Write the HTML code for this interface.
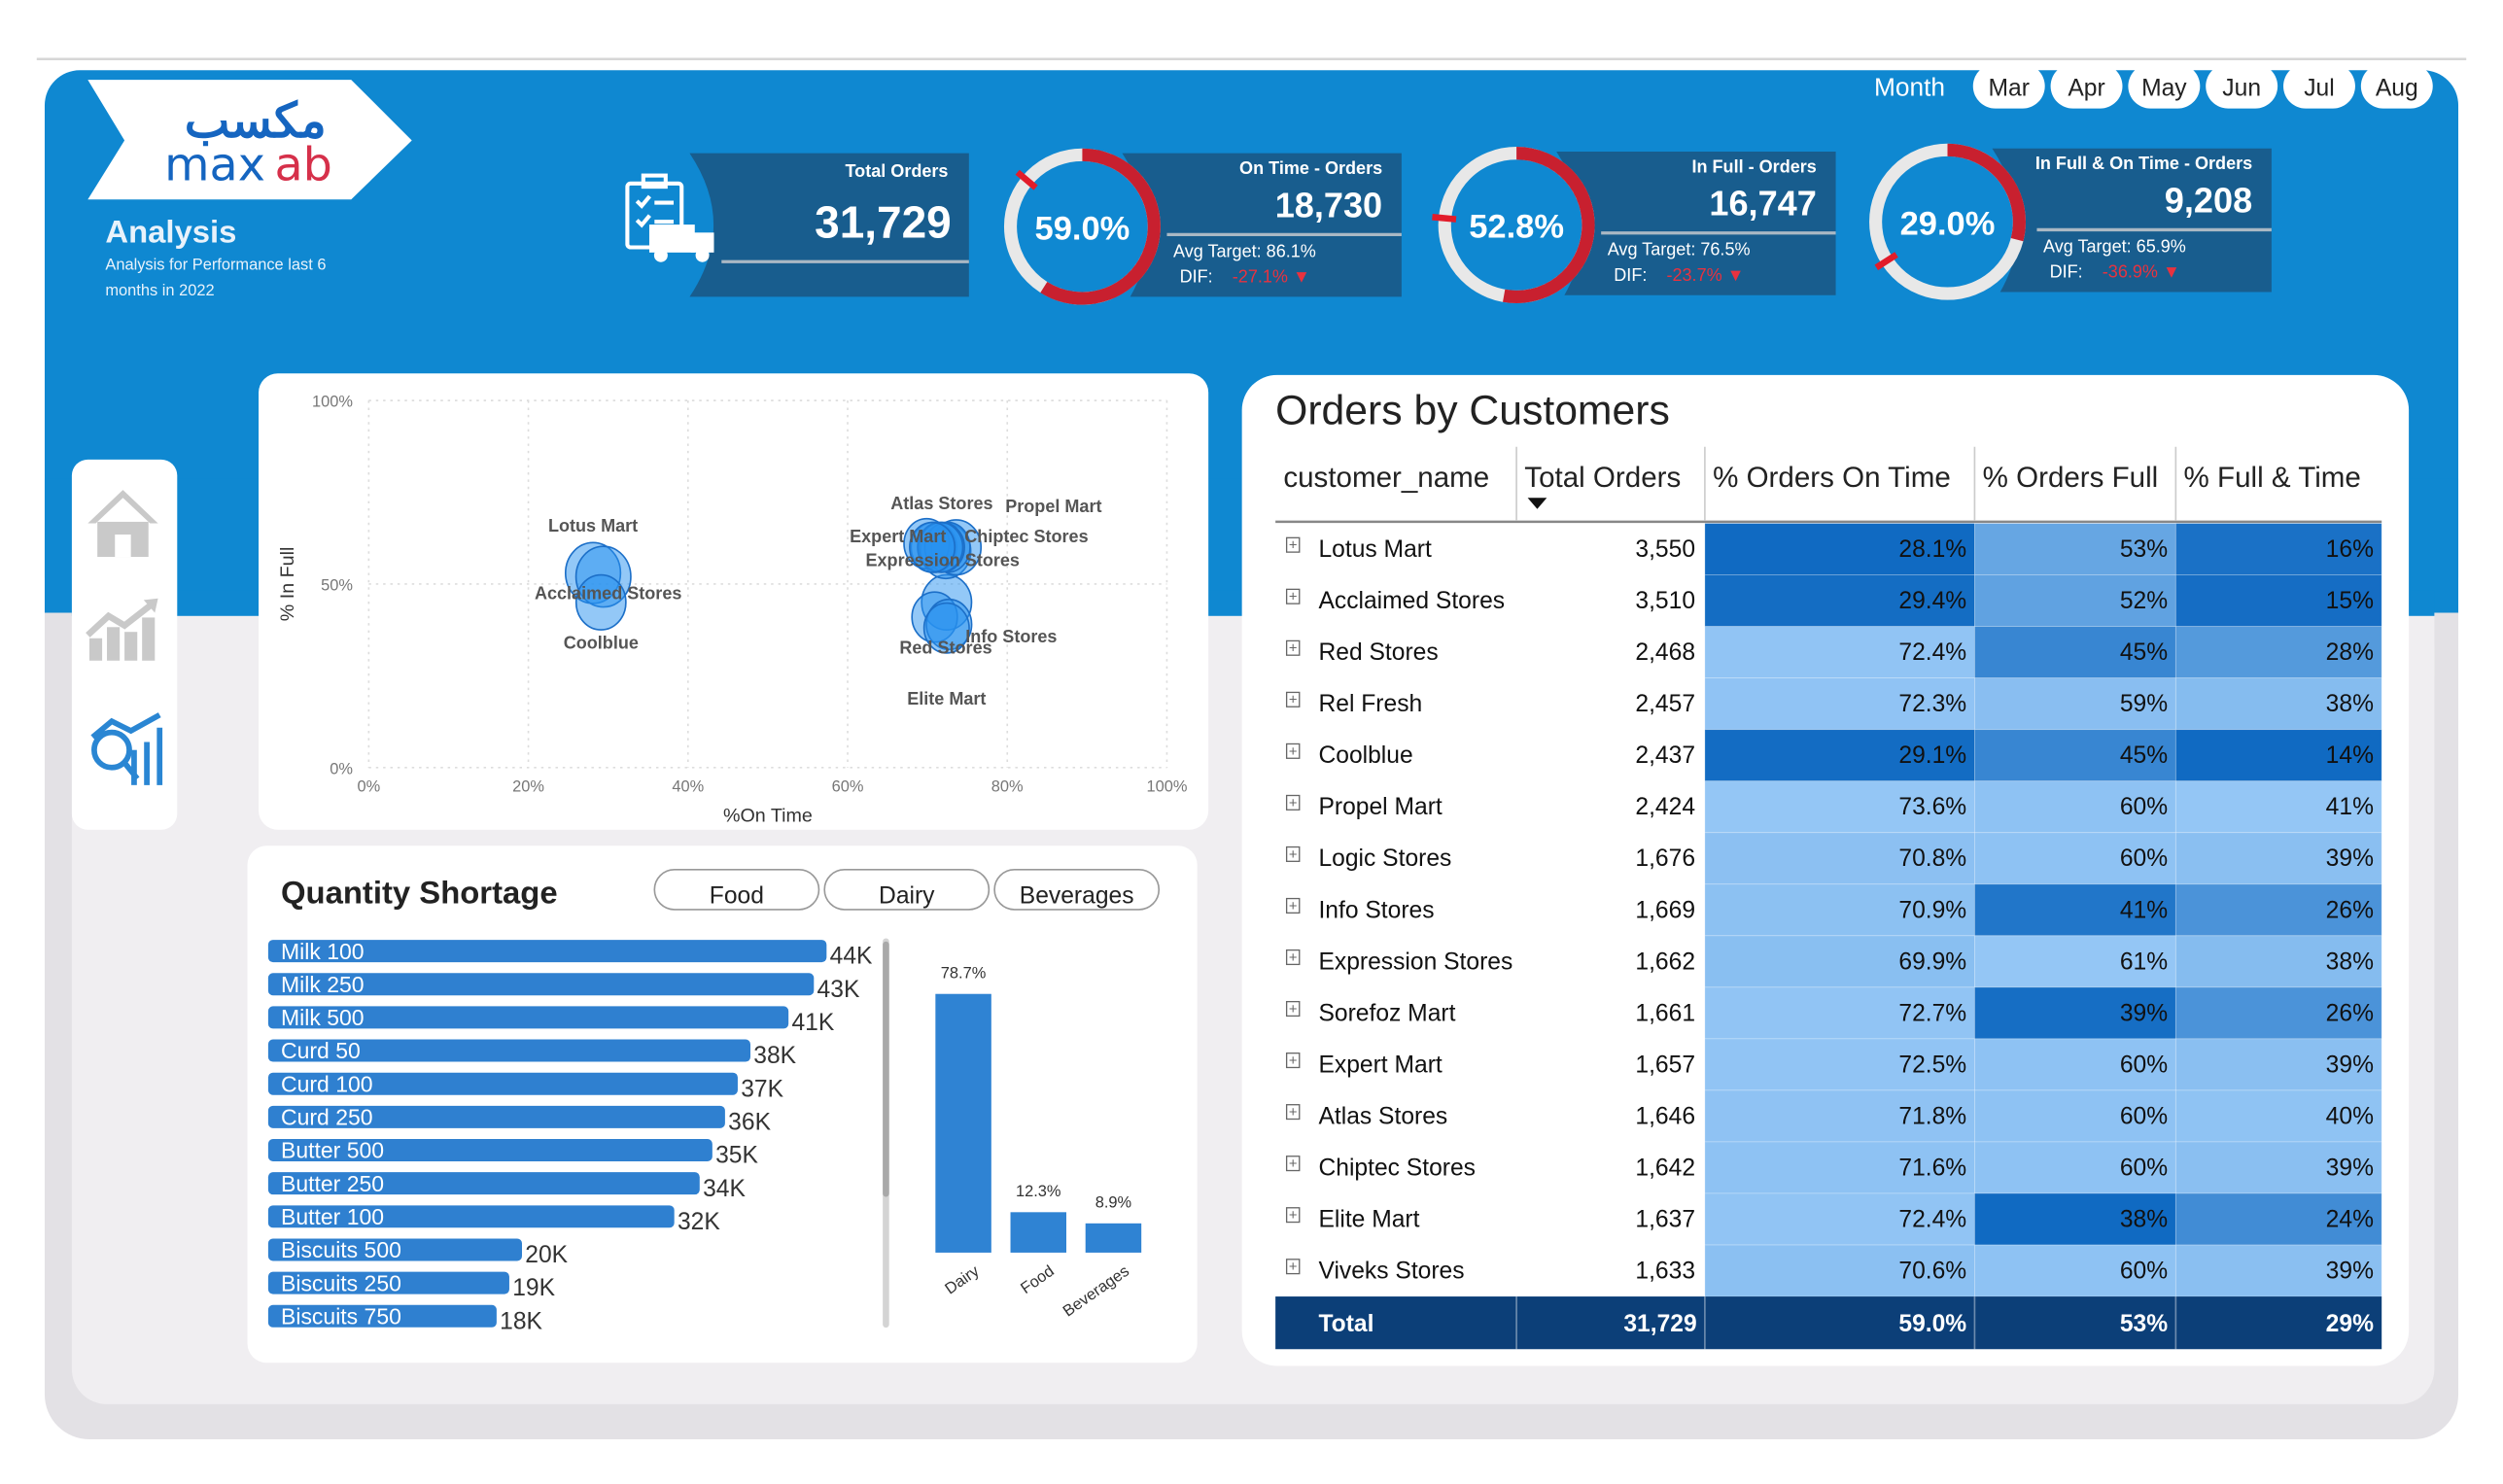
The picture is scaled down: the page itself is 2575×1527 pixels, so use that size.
<!DOCTYPE html>
<html><head><meta charset="utf-8">
<style>
html,body{margin:0;padding:0;background:#fff;width:2575px;height:1527px;overflow:hidden}
svg{display:block;font-family:"Liberation Sans",sans-serif}
</style></head>
<body>
<svg id="root" width="2575" height="1527" viewBox="0 0 1568 930" preserveAspectRatio="none" xmlns="http://www.w3.org/2000/svg">
<rect x="0" y="0" width="1568" height="930" fill="#fff"/>
<line x1="23" y1="37" x2="1545" y2="37" stroke="#d6d6d6" stroke-width="1.5"/>
<rect x="28" y="300" width="1512" height="602" rx="28" fill="#e3e1e5"/>
<rect x="28" y="44" width="1512" height="340" rx="22" fill="#0f88d1"/>
<rect x="28" y="300" width="1512" height="84" fill="#0f88d1"/>
<rect x="45" y="384" width="1480" height="496" rx="22" fill="#f0eef1"/>
<rect x="45" y="384" width="1480" height="40" fill="#f0eef1"/>
<rect x="45" y="370" width="1480" height="16" fill="#0f88d1"/>

<!-- logo -->
<g>
<polygon points="55,50 220,50 258,88 220,125 55,125 78,88" fill="#fff"/>
<text x="160" y="86" text-anchor="middle" font-size="30" fill="#1565c0" font-family="'Liberation Sans',sans-serif" font-weight="bold">مكسب</text>
<text x="103" y="113" font-size="29" fill="#1565c0" font-family="'DejaVu Sans',sans-serif">max</text>
<text x="172" y="113" font-size="29" fill="#d6304a" font-family="'DejaVu Sans',sans-serif">ab</text>
</g>
<text x="66" y="152" font-size="20" font-weight="bold" fill="#e8f2fb">Analysis</text>
<text x="66" y="169" font-size="10" fill="#e8f2fb">Analysis for Performance last 6</text>
<text x="66" y="185" font-size="10" fill="#e8f2fb">months in 2022</text>

<!-- month slicer -->
<text x="1174" y="60" font-size="16" fill="#fff">Month</text>
<g id="months"></g>

<g id="kpis"></g>

<!-- nav -->
<g>
<rect x="45" y="288" width="66" height="232" rx="10" fill="#fff"/>
<g fill="#c9c9c9">
<polygon points="77,307 55,328 60,328 77,312 94,328 99,328"/>
<rect x="61" y="327" width="32" height="22"/><rect x="72" y="335" width="10" height="14" fill="#fff"/>
</g>
<g fill="#c9c9c9">
<rect x="56" y="400" width="8" height="14"/><rect x="67" y="393" width="8" height="21"/><rect x="78" y="396" width="8" height="18"/><rect x="89" y="387" width="8" height="27"/>
<polyline points="55,398 68,386 78,392 96,378" fill="none" stroke="#c9c9c9" stroke-width="4"/>
<polygon points="99,375 90,376 97,384"/>
</g>
<g fill="none" stroke="#2a86d3" stroke-width="3.5">
<circle cx="70" cy="470" r="11"/><line x1="78" y1="478" x2="86" y2="488"/>
<line x1="84" y1="470" x2="84" y2="492"/><line x1="92" y1="465" x2="92" y2="492"/><line x1="100" y1="456" x2="100" y2="492"/>
<polyline points="58,462 70,452 82,458 100,448"/>
</g>
</g>

<!-- scatter -->
<rect x="162" y="234" width="595" height="286" rx="12" fill="#fff"/>
<g id="scatter"></g>

<!-- quantity -->
<rect x="155" y="530" width="595" height="324" rx="12" fill="#fff"/>
<text x="176" y="566" font-size="20" font-weight="bold" fill="#222">Quantity Shortage</text>
<g id="filters"></g>
<line x1="555" y1="590" x2="555" y2="830" stroke="#d4d4d4" stroke-width="4" stroke-linecap="round"/>
<line x1="555" y1="592" x2="555" y2="748" stroke="#a9a9a9" stroke-width="4" stroke-linecap="round"/>
<g id="hbars"></g>
<g id="vbars"></g>

<!-- table -->
<rect x="778" y="235" width="731" height="621" rx="22" fill="#fff"/>
<text x="799" y="266" font-size="26" fill="#222">Orders by Customers</text>
<g id="table"></g>
</svg>
<script>
const NS="http://www.w3.org/2000/svg";
function mk(tag,attrs,parent,txt){const e=document.createElementNS(NS,tag);for(const k in attrs)e.setAttribute(k,attrs[k]);if(txt!==undefined)e.textContent=txt;parent.appendChild(e);return e;}

// months
const months=["Mar","Apr","May","Jun","Jul","Aug"];
const mg=document.getElementById('months');
months.forEach((m,i)=>{const x=1236+i*48.6;
 const r=mk('rect',{x:x,y:40,width:45,height:28,rx:14,fill:'#fff'},mg);
 
 
 mk('text',{x:x+22.5,y:60,'text-anchor':'middle','font-size':15,fill:'#222'},mg,m);
});

// KPIs
const kpiTitles=["On Time - Orders","In Full - Orders","In Full & On Time - Orders"];
const kpiValues=["18,730","16,747","9,208"];
const kpiPct=[59.0,52.8,29.0];
const kpiTarget=[86.1,76.5,65.9];
const kpiDif=["-27.1%","-23.7%","-36.9%"];
const kg=document.getElementById('kpis');
// total orders card
(function(){
 const p=mk('path',{d:'M432,96 L607,96 L607,186 L432,186 Q462,141 432,96 Z',fill:'#185d8e'},kg);
 
 
 mk('text',{x:594,y:111,'text-anchor':'end','font-size':11,fill:'#fff','font-weight':'bold'},kg,'Total Orders');
 mk('text',{x:596,y:149,'text-anchor':'end','font-size':28,fill:'#fff','font-weight':'bold'},kg,'31,729');
 mk('line',{x1:452,y1:164,x2:607,y2:164,stroke:'#aab8c4','stroke-width':2},kg);
 const ic=mk('g',{fill:'none',stroke:'#fff','stroke-width':2.5},kg);
 
 
 mk('rect',{x:393,y:115,width:34,height:40,rx:2},ic);
 mk('rect',{x:403,y:110,width:14,height:7},ic);
 mk('polyline',{points:'399,126 402,129 407,123'},ic);mk('line',{x1:410,y1:127,x2:422,y2:127},ic);
 mk('polyline',{points:'399,138 402,141 407,135'},ic);mk('line',{x1:410,y1:139,x2:422,y2:139},ic);
 mk('rect',{x:408,y:142,width:26,height:15,fill:'#fff'},ic);mk('rect',{x:434,y:147,width:12,height:10,fill:'#fff'},ic);
 mk('circle',{cx:414,cy:160,r:3,fill:'#fff'},ic);mk('circle',{cx:440,cy:160,r:3,fill:'#fff'},ic);
})();
const donutX=[678,950,1220],donutY=[142,141,139],panelX=[703,975,1248];
function arcPath(cx,cy,r,a0,a1){const f=a=>[cx+r*Math.sin(a*2*Math.PI/100),cy-r*Math.cos(a*2*Math.PI/100)];
 const s=f(a0),e=f(a1);return `M${s[0]},${s[1]} A${r},${r} 0 ${(a1-a0)>50?1:0} 1 ${e[0]},${e[1]}`;}
kpiTitles.forEach((t,i)=>{
 const px=panelX[i],cy=donutY[i],cx=donutX[i];
 const p=mk('path',{d:`M${px},${cy-46} L${px+175},${cy-46} L${px+175},${cy+44} L${px+5},${cy+44} Q${px+30},${cy} ${px},${cy-46} Z`,fill:'#185d8e'},kg);
 
 
 mk('text',{x:px+163,y:cy-33,'text-anchor':'end','font-size':11,fill:'#fff','font-weight':'bold'},kg,t);
 mk('text',{x:px+163,y:cy-6,'text-anchor':'end','font-size':22,fill:'#fff','font-weight':'bold'},kg,kpiValues[i]);
 mk('line',{x1:px+28,y1:cy+5,x2:px+175,y2:cy+5,stroke:'#aab8c4','stroke-width':2},kg);
 mk('text',{x:px+32,y:cy+19,'font-size':11,fill:'#fff'},kg,'Avg Target: '+kpiTarget[i]+'%');
 mk('text',{x:px+36,y:cy+35,'font-size':11,fill:'#fff'},kg,'DIF:');
 mk('text',{x:px+69,y:cy+35,'font-size':11,fill:'#e8323f'},kg,kpiDif[i]+' \u25BC');
 const g=mk('g',{},kg);
 
 
 mk('circle',{cx:cx,cy:cy,r:45,fill:'none',stroke:'#e8e8e8','stroke-width':8},g);
 mk('path',{d:arcPath(cx,cy,45,0,kpiPct[i]),fill:'none',stroke:'#c8202f','stroke-width':8},g);
 const ta=kpiTarget[i]*2*Math.PI/100;
 mk('line',{x1:cx+38*Math.sin(ta),y1:cy-38*Math.cos(ta),x2:cx+53*Math.sin(ta),y2:cy-53*Math.cos(ta),stroke:'#e21c2a','stroke-width':4},g);
 mk('text',{x:cx,y:cy+8,'text-anchor':'middle','font-size':21,'font-weight':'bold',fill:'#fff'},g,kpiPct[i].toFixed(1)+'%');
});

// table data
const customers=["Lotus Mart","Acclaimed Stores","Red Stores","Rel Fresh","Coolblue","Propel Mart","Logic Stores","Info Stores","Expression Stores","Sorefoz Mart","Expert Mart","Atlas Stores","Chiptec Stores","Elite Mart","Viveks Stores"];
const totalOrders=[3550,3510,2468,2457,2437,2424,1676,1669,1662,1661,1657,1646,1642,1637,1633];
const onTime=[28.1,29.4,72.4,72.3,29.1,73.6,70.8,70.9,69.9,72.7,72.5,71.8,71.6,72.4,70.6];
const inFull=[53,52,45,59,45,60,60,41,61,39,60,60,60,38,60];
const fullTime=[16,15,28,38,14,41,39,26,38,26,39,40,39,24,39];
const totals=["31,729","59.0%","53%","29%"];

// scatter
const sg=document.getElementById('scatter');
const sx=v=>231+v*5, sy=v=>481-v*2.3;
const xTicks=[0,20,40,60,80,100], yTicks=[0,50,100];
xTicks.forEach(t=>{mk('line',{x1:sx(t),y1:sy(100),x2:sx(t),y2:sy(0),stroke:'#ddd','stroke-dasharray':'1.5,3'},sg);
 mk('text',{x:sx(t),y:496,'text-anchor':'middle','font-size':10,fill:'#777'},sg,t+'%');});
yTicks.forEach(t=>{mk('line',{x1:sx(0),y1:sy(t),x2:sx(100),y2:sy(t),stroke:'#ddd','stroke-dasharray':'1.5,3'},sg);
 mk('text',{x:221,y:sy(t)+4,'text-anchor':'end','font-size':10,fill:'#777'},sg,t+'%');});
const xt=mk('text',{x:481,y:515,'text-anchor':'middle','font-size':12,fill:'#333'},sg,'%On Time');

const yt=mk('text',{x:0,y:0,'text-anchor':'middle','font-size':12,fill:'#333',transform:'translate(184,366) rotate(-90)'},sg,'% In Full');

const labelOff={"Lotus Mart":[0,-26],"Acclaimed Stores":[3,14],"Coolblue":[0,29],"Atlas Stores":[0,-24],"Propel Mart":[61,-22],"Expert Mart":[-31,-3],"Chiptec Stores":[54,-3],"Expression Stores":[10,14],"Info Stores":[48,16],"Red Stores":[-0.5,32],"Elite Mart":[0,48]};
customers.forEach((c,i)=>{
 if(c==="Rel Fresh"||c==="Logic Stores"||c==="Sorefoz Mart"||c==="Viveks Stores"){}
 const r=8+Math.sqrt(totalOrders[i])*0.17;
 const b=mk('ellipse',{cx:sx(onTime[i]),cy:sy(inFull[i]),rx:r*0.95,ry:r*1.05,fill:'rgba(40,145,240,0.5)',stroke:'#1c6fc8','stroke-width':1},sg);
 
 
});
customers.forEach((c,i)=>{const o=labelOff[c];if(!o)return;
 mk('text',{x:sx(onTime[i])+o[0],y:sy(inFull[i])+o[1],'text-anchor':'middle','font-size':11,'font-weight':'bold',fill:'#555'},sg,c);});

// filters
const filters=["Food","Dairy","Beverages"];
const fg=document.getElementById('filters');
filters.forEach((f,i)=>{const x=410+i*106.5;
 const r=mk('rect',{x:x,y:545,width:103,height:25,rx:12.5,fill:'#fff',stroke:'#999','stroke-width':1},fg);
 
 
 mk('text',{x:x+51.5,y:566,'text-anchor':'middle','font-size':15,fill:'#222'},fg,f);});

// horizontal bars
const products=["Milk 100","Milk 250","Milk 500","Curd 50","Curd 100","Curd 250","Butter 500","Butter 250","Butter 100","Biscuits 500","Biscuits 250","Biscuits 750"];
const shortage=[44,43,41,38,37,36,35,34,32,20,19,18];
const hg=document.getElementById('hbars');
const hx=v=>v*7.95;
products.forEach((p,i)=>{const y=589+i*20.8,w=hx(shortage[i]);
 const b=mk('rect',{x:168,y:y,width:w,height:14,rx:3,fill:'#2f80d0'},hg);
 
 
 mk('text',{x:176,y:y+12,'font-size':14,fill:'#fff'},hg,p);
 mk('text',{x:168+w+2,y:y+15,'font-size':15,fill:'#333'},hg,shortage[i]+'K');});

// vertical bars
const cats=["Dairy","Food","Beverages"];
const catPct=[78.7,12.3,8.9];
const vg=document.getElementById('vbars');
const vy=v=>785-v*2.06;
cats.forEach((c,i)=>{const x=586+i*47;
 const b=mk('rect',{x:x,y:vy(catPct[i]),width:35,height:785-vy(catPct[i]),fill:'#2f83d3'},vg);
 
 
 mk('text',{x:x+17.5,y:vy(catPct[i])-10,'text-anchor':'middle','font-size':10,fill:'#333'},vg,catPct[i]+'%');
 mk('text',{x:x+28,y:798,'text-anchor':'end','font-size':10,fill:'#333',transform:`rotate(-35 ${x+28} 798)`},vg,c);});

// table
const tg=document.getElementById('table');
const colX=[800,950,1068,1237,1363,1492];
const heads=["customer_name","Total Orders","% Orders On Time","% Orders Full","% Full & Time"];
heads.forEach((h,i)=>{const t=mk('text',{x:colX[i]+(i==0?4:5),y:305,'font-size':18,fill:'#222'},tg,h);
 
 if(i>0)mk('line',{x1:colX[i],y1:280,x2:colX[i],y2:326,stroke:'#ccc'},tg);});
mk('polygon',{points:'957,312 969,312 963,319',fill:'#111'},tg);
mk('line',{x1:799,y1:327,x2:1492,y2:327,stroke:'#888','stroke-width':1.5},tg);
function lerp(a,b,t){return Math.round(a+(b-a)*t);}
function shade(v,arr){const mn=Math.min(...arr),mx=Math.max(...arr);const t=(v-mn)/(mx-mn);
 return `rgb(${lerp(16,148,t)},${lerp(106,198,t)},${lerp(194,245,t)})`;}
const rowH=32.3;
customers.forEach((c,i)=>{const y=328+i*rowH;
 const g=mk('g',{},tg);
 
 
 [[onTime,2,v=>v.toFixed(1)+'%'],[inFull,3,v=>v+'%'],[fullTime,4,v=>v+'%']].forEach(([arr,ci,fmt])=>{
  mk('rect',{x:colX[ci],y:y,width:colX[ci+1]-colX[ci],height:rowH,fill:shade(arr[i],arr),stroke:'#fff','stroke-opacity':0.3,'stroke-width':0.5},g);
  mk('text',{x:colX[ci+1]-5,y:y+21,'text-anchor':'end','font-size':15,fill:'#111'},g,fmt(arr[i]));});
 mk('rect',{x:806,y:y+9,width:8,height:9,fill:'none',stroke:'#666','stroke-width':0.8},g);
 mk('text',{x:810,y:y+16.5,'text-anchor':'middle','font-size':9,fill:'#666'},g,'+');
 mk('text',{x:826,y:y+21,'font-size':15,fill:'#111'},g,c);
 mk('text',{x:1062,y:y+21,'text-anchor':'end','font-size':15,fill:'#111'},g,totalOrders[i].toLocaleString('en-US'));
});
const ty=328+15*rowH;
const tr=mk('rect',{x:799,y:ty,width:693,height:33,fill:'#0c3f78'},tg);

mk('text',{x:826,y:ty+22,'font-size':15,'font-weight':'bold',fill:'#fff'},tg,'Total');
totals.forEach((t,i)=>{mk('text',{x:colX[i+2]-5,y:ty+22,'text-anchor':'end','font-size':15,'font-weight':'bold',fill:'#fff'},tg,t);
 mk('line',{x1:colX[i+1],y1:ty,x2:colX[i+1],y2:ty+33,stroke:'#fff','stroke-opacity':0.4},tg);});
</script>
</body></html>
